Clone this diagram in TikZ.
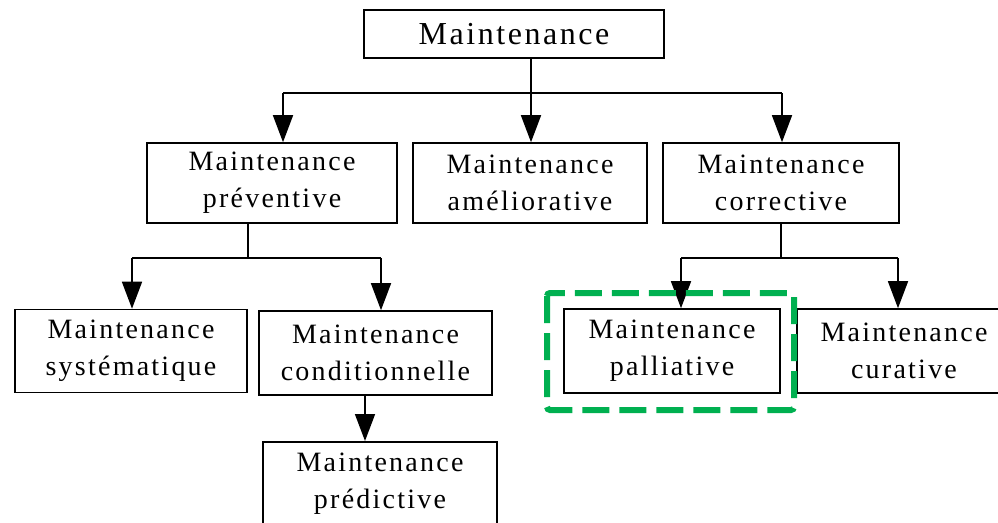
\documentclass[tikz,border=0pt]{standalone}
\usepackage{fontspec}
\setmainfont{Liberation Serif}
\newfontfamily\boxfont[LetterSpace=8]{Liberation Serif}
\usetikzlibrary{arrows.meta}
\definecolor{hlgreen}{RGB}{0,176,80}
\begin{document}
\begin{tikzpicture}[x=1pt,y=-1pt,
  box/.style={draw=black,line width=1.6pt,inner sep=0pt,align=center,
    font=\boxfont\fontsize{28}{37}\selectfont},
  link/.style={draw=black,line width=1.6pt},
  arr/.style={link,-{Triangle[length=27pt,width=20pt]}},
  highlight/.style={draw=hlgreen,line width=6pt,dash pattern=on 27pt off 10pt,rounded corners=3pt}]
\useasboundingbox (0,0) rectangle (998,522);
\clip (0,0) rectangle (998,522);
% tree boxes
\node[box,minimum width=300pt,minimum height=48pt,font=\boxfont\fontsize{32}{37}\selectfont] (top) at (514,34) {Maintenance};
\node[box,minimum width=250pt,minimum height=80pt] (prev) at (272,183) {Maintenance\\préventive};
\node[box,minimum width=234pt,minimum height=80pt] (amel) at (530,183) {Maintenance\\améliorative};
\node[box,minimum width=236pt,minimum height=80pt] (corr) at (781,183) {Maintenance\\corrective};
\node[box,minimum width=232pt,minimum height=83pt] (syst) at (131,351) {Maintenance\\systématique};
\node[box,minimum width=233pt,minimum height=84pt] (cond) at (375.5,353) {Maintenance\\conditionnelle};
\node[box,minimum width=216pt,minimum height=84pt] (pall) at (672,351) {Maintenance\\palliative};
\node[box,minimum width=214pt,minimum height=84pt] (cura) at (904,351) {Maintenance\\curative};
\node[box,minimum width=234pt,minimum height=84pt,anchor=north] (pred) at (380,441) {Maintenance\\prédictive};
% first level connectors
\coordinate (h1) at (531,93);
\coordinate (h1l) at (283,93);
\coordinate (h1r) at (782,93);
\draw[link] (top.south -| h1) -- (h1);
\draw[link] (h1l) -- (h1r);
\draw[arr] (h1l) -- (prev.north -| h1l);
\draw[arr] (h1) -- (amel.north -| h1);
\draw[arr] (h1r) -- (corr.north -| h1r);
% preventive branch
\coordinate (h2) at (248,258);
\coordinate (h2l) at (132,258);
\coordinate (h2r) at (381,258);
\draw[link] (prev.south -| h2) -- (h2);
\draw[link] (h2l) -- (h2r);
\draw[arr] (h2l) -- (syst.north -| h2l);
\draw[arr] (h2r) -- (cond.north -| h2r);
\coordinate (v3) at (365,395);
\draw[arr] (cond.south -| v3) -- (pred.north -| v3);
% corrective branch
\coordinate (h3) at (781,258);
\coordinate (h3l) at (681,258);
\coordinate (h3r) at (898,258);
\draw[link] (corr.south -| h3) -- (h3);
\draw[link] (h3l) -- (h3r);
\draw[arr] (h3l) -- (pall.north -| h3l);
\draw[arr] (h3r) -- (cura.north -| h3r);
% highlight around the palliative box
\draw[highlight] (547,293) rectangle (794,410);
\end{tikzpicture}
\end{document}
